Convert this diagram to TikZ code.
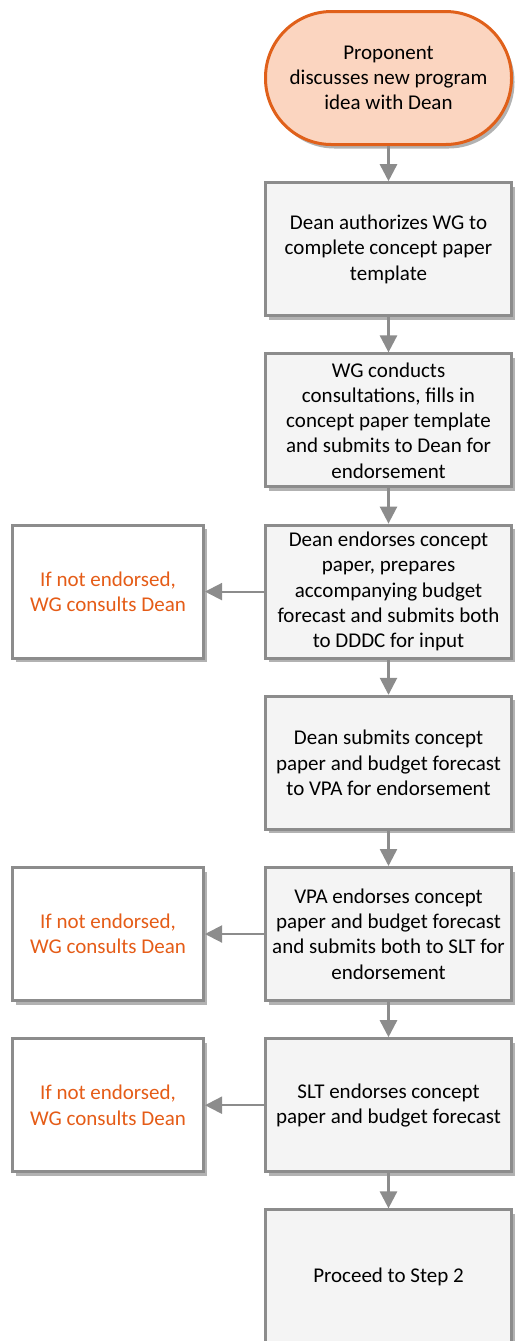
\documentclass[tikz,border=0pt]{standalone}
\usepackage{fontspec}
\setmainfont{Carlito}
\usepackage{tikz}
\usetikzlibrary{arrows.meta,
                positioning,
                shadows}
\definecolor{termfill}{HTML}{FBD5C0}
\definecolor{termline}{HTML}{E0601A}
\definecolor{stepfill}{HTML}{F4F4F4}
\definecolor{stepline}{HTML}{8C8C8C}
\definecolor{notetext}{HTML}{E55C17}

\begin{document}
\begin{tikzpicture}[
				x=0.5pt, y=-0.5pt,
				node distance=17.6pt and 29.5pt,
				font=\fontsize{10.5}{12.65}\selectfont,
				box shadow/.style={drop shadow={shadow xshift=1.5pt, shadow yshift=-2pt, opacity=0.3, fill=black}},
				term node/.style={rectangle, rounded corners=33pt, draw=termline, line width=1.5pt, fill=termfill,
					minimum width=123pt, minimum height=66.5pt, align=center, box shadow},
				step node/.style={rectangle, draw=stepline, line width=1.5pt, fill=stepfill,
					minimum width=123pt, minimum height=66.5pt, align=center, box shadow},
				note node/.style={rectangle, draw=stepline, line width=1.5pt, fill=white, text=notetext,
					minimum width=95.5pt, minimum height=66.5pt, align=center, box shadow},
				flow/.style={draw=stepline, line width=1.3pt, -{Triangle[length=8.5pt, width=8.5pt]}},
				side flow/.style={draw=stepline, line width=1pt, -{Triangle[length=8.5pt, width=8.5pt]}}
				]
		\useasboundingbox (0,0) rectangle (515,1341);
		% main column
		\node[term node] (idea) at (388.5,78) {Proponent\\discusses new program\\idea with Dean};
		\node[step node] (auth) [below=of idea] {Dean authorizes WG to\\complete concept paper\\template};
		\node[step node] (consult) [below=of auth] {WG conducts\\consultations, fills in\\concept paper template\\and submits to Dean for\\endorsement};
		\node[step node] (dean) [below=of consult] {Dean endorses concept\\paper, prepares\\accompanying budget\\forecast and submits both\\to DDDC for input};
		\node[step node] (vpasub) [below=of dean] {Dean submits concept\\paper and budget forecast\\to VPA for endorsement};
		\node[step node] (vpa) [below=of vpasub] {VPA endorses concept\\paper and budget forecast\\and submits both to SLT for\\endorsement};
		\node[step node] (slt) [below=of vpa] {SLT endorses concept\\paper and budget forecast};
		\node[step node] (next) [below=of slt] {Proceed to Step 2};
		% side notes
		\node[note node] (dean no) [left=of dean] {If not endorsed,\\WG consults Dean};
		\node[note node] (vpa no) [left=of vpa] {If not endorsed,\\WG consults Dean};
		\node[note node] (slt no) [left=of slt] {If not endorsed,\\WG consults Dean};
		% connectors
		\path[flow] (idea) -- (auth);
		\path[flow] (auth) -- (consult);
		\path[flow] (consult) -- (dean);
		\path[flow] (dean) -- (vpasub);
		\path[flow] (vpasub) -- (vpa);
		\path[flow] (vpa) -- (slt);
		\path[flow] (slt) -- (next);
		\path[side flow] (dean) -- (dean no);
		\path[side flow] (vpa) -- (vpa no);
		\path[side flow] (slt) -- (slt no);
\end{tikzpicture}
\end{document}
